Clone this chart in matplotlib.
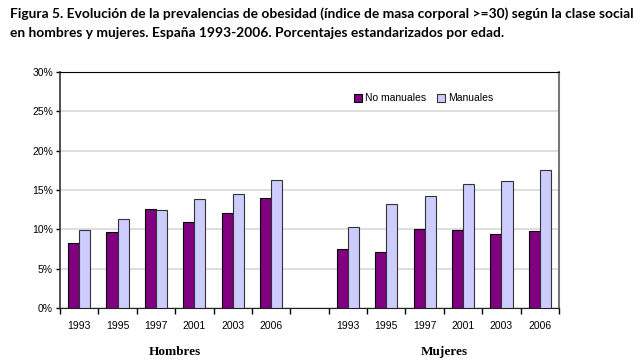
import matplotlib.pyplot as plt
import numpy as np

years = ['1993', '1995', '1997', '2001', '2003', '2006']
hombres_no_manuales = [8.2, 9.6, 12.6, 10.9, 12.1, 14.0]
hombres_manuales = [9.9, 11.3, 12.4, 13.8, 14.5, 16.3]
mujeres_no_manuales = [7.5, 7.1, 10.0, 9.9, 9.4, 9.8]
mujeres_manuales = [10.3, 13.2, 14.3, 15.7, 16.2, 17.5]
groups = ['Hombres', 'Mujeres']

purple = '#800080'
lilac = '#ccccff'


def main():
    fig = plt.figure(figsize=(6.42, 3.62), dpi=100)
    ax = fig.add_axes([60 / 642, 1 - 308 / 362, 499 / 642, 236 / 362])

    n = len(years)
    pos_h = np.arange(n) + 0.5
    pos_m = np.arange(n) + n + 1.5
    w = 0.29

    nm = hombres_no_manuales + mujeres_no_manuales
    m = hombres_manuales + mujeres_manuales
    pos = np.concatenate([pos_h, pos_m])

    ax.bar(pos - w / 2, nm, w, color=purple, edgecolor='black', linewidth=0.8,
           label='No manuales', zorder=3)
    ax.bar(pos + w / 2, m, w, color=lilac, edgecolor='#333333', linewidth=0.8,
           label='Manuales', zorder=3)

    ax.set_xlim(0, 2 * n + 1)
    ax.set_ylim(0, 30)
    ax.set_yticks(range(0, 31, 5))
    ax.set_yticklabels(['%d%%' % v for v in range(0, 31, 5)],
                       family='Liberation Sans', fontsize=7.5)
    ax.yaxis.grid(True, color='#d8d8d8', linewidth=1.2, zorder=0)

    ax.set_xticks(np.arange(0, 2 * n + 2))
    ax.set_xticklabels([])
    ax.tick_params(axis='x', length=4, width=1, direction='out')
    ax.tick_params(axis='y', length=3, width=1, direction='out', pad=2)
    for p, lab in zip(pos, years + years):
        ax.text(p, -2.3, lab, ha='center', va='center', fontsize=7.5,
                family='Liberation Sans')

    ax.text(pos_h.mean(), -5.6, groups[0], ha='center', va='center',
            fontsize=9.5, fontweight='bold', family='Liberation Serif')
    ax.text(pos_m.mean(), -5.6, groups[1], ha='center', va='center',
            fontsize=9.5, fontweight='bold', family='Liberation Serif')

    ax.spines['top'].set_color('black')
    ax.spines['bottom'].set_color('#222222')
    ax.spines['left'].set_color('#333333')
    ax.spines['right'].set_color('#777777')
    ax.spines['right'].set_linewidth(1.5)
    ax.spines['left'].set_linewidth(1.2)

    ax.legend(loc='upper left', bbox_to_anchor=(0.57, 0.95), ncol=2,
              frameon=False, handlelength=0.8, handleheight=0.8,
              handletextpad=0.3, columnspacing=1.0,
              prop={'family': 'Liberation Sans', 'size': 7.5})

    fig.text(10 / 642, 1 - 14 / 362,
             'Figura 5. Evolución de la prevalencias de obesidad (índice de masa corporal >=30) según la clase social',
             fontsize=9.9, fontweight='bold', family='Lato', va='center')
    fig.text(10 / 642, 1 - 33 / 362,
             'en hombres y mujeres. España 1993-2006. Porcentajes estandarizados por edad.',
             fontsize=9.9, fontweight='bold', family='Lato', va='center')

    fig.savefig('out.png', dpi=100)


if __name__ == "__main__":
    main()
